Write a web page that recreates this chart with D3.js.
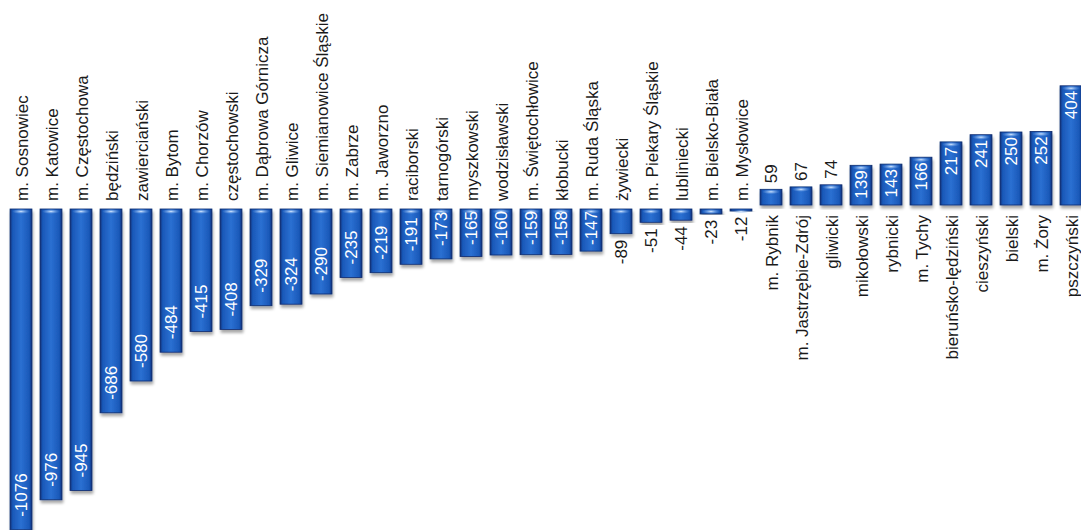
<!DOCTYPE html>
<html>
<head>
<meta charset="utf-8">
<script src="https://cdn.jsdelivr.net/npm/d3@7"></script>
<style>
  html, body { margin: 0; padding: 0; background: #ffffff; }
  svg { display: block; }
</style>
</head>
<body>
<svg id="chart" width="1081" height="530"></svg>
<script>
// Population change by county / city (powiat)
const categories = [
  "m. Sosnowiec", "m. Katowice", "m. Częstochowa", "będziński", "zawierciański",
  "m. Bytom", "m. Chorzów", "częstochowski", "m. Dąbrowa Górnicza", "m. Gliwice",
  "m. Siemianowice Śląskie", "m. Zabrze", "m. Jaworzno", "raciborski", "tarnogórski",
  "myszkowski", "wodzisławski", "m. Świętochłowice", "kłobucki", "m. Ruda Śląska",
  "żywiecki", "m. Piekary Śląskie", "lubliniecki", "m. Bielsko-Biała", "m. Mysłowice",
  "m. Rybnik", "m. Jastrzębie-Zdrój", "gliwicki", "mikołowski", "rybnicki",
  "m. Tychy", "bieruńsko-lędziński", "cieszyński", "bielski", "m. Żory", "pszczyński"
];
const values = [
  -1076, -976, -945, -686, -580,
  -484, -415, -408, -329, -324,
  -290, -235, -219, -191, -173,
  -165, -160, -159, -158, -147,
  -89, -51, -44, -23, -12,
  59, 67, 74, 139, 143,
  166, 217, 241, 250, 252, 404
];

const data = categories.map((c, i) => ({ name: c, value: values[i] }));

const svg = d3.select("#chart");

const x = d3.scaleBand()
  .domain(categories)
  .range([6, 1086])
  .paddingInner(0.27)
  .paddingOuter(0.135);

const y = d3.scaleLinear()
  .domain([-1100, 440])
  .range([537, 75]);

const defs = svg.append("defs");

// body shading: darker at the sides, brighter in the middle
const g = defs.append("linearGradient").attr("id", "barFill")
  .attr("x1", "0").attr("x2", "1").attr("y1", "0").attr("y2", "0");
g.append("stop").attr("offset", "0%").attr("stop-color", "#0c2f78");
g.append("stop").attr("offset", "12%").attr("stop-color", "#1a58b8");
g.append("stop").attr("offset", "50%").attr("stop-color", "#2b70d2");
g.append("stop").attr("offset", "88%").attr("stop-color", "#1a58b8");
g.append("stop").attr("offset", "100%").attr("stop-color", "#0c2f78");

// glossy highlight along the top edge
const hg = defs.append("radialGradient").attr("id", "gloss")
  .attr("cx", "50%").attr("cy", "50%").attr("r", "50%");
hg.append("stop").attr("offset", "0%").attr("stop-color", "#d5e7ff").attr("stop-opacity", 0.95);
hg.append("stop").attr("offset", "100%").attr("stop-color", "#6fa6ec").attr("stop-opacity", 0);

// soft shadow under each bar
const f = defs.append("filter").attr("id", "shadow")
  .attr("x", "-30%").attr("y", "-10%").attr("width", "160%").attr("height", "130%");
f.append("feGaussianBlur").attr("in", "SourceAlpha").attr("stdDeviation", 1.6);
f.append("feOffset").attr("dx", 1).attr("dy", 3).attr("result", "blur");
f.append("feComponentTransfer").append("feFuncA").attr("type", "linear").attr("slope", 0.35);
const fm = f.append("feMerge");
fm.append("feMergeNode");
fm.append("feMergeNode").attr("in", "SourceGraphic");

const y0 = y(0);
const barTop = d => d.value < 0 ? y0 + 2 : y(d.value);
const barLen = d => Math.abs(y(d.value) - y0);

const bars = svg.append("g").selectAll("g.bar").data(data).join("g").attr("class", "bar");

bars.append("rect")
  .attr("x", d => x(d.name))
  .attr("y", barTop)
  .attr("width", x.bandwidth())
  .attr("height", d => Math.max(2, barLen(d) - 2))
  .attr("fill", "url(#barFill)")
  .attr("stroke", "#0a2a6e")
  .attr("stroke-width", 0.8)
  .attr("filter", "url(#shadow)");

bars.append("ellipse")
  .attr("cx", d => x(d.name) + x.bandwidth() / 2)
  .attr("cy", d => barTop(d) + 2.5)
  .attr("rx", x.bandwidth() / 2 - 2)
  .attr("ry", d => Math.min(2.5, barLen(d) / 2))
  .attr("fill", "url(#gloss)");

const font = "'Liberation Sans', Arial, sans-serif";
const cx = d => x(d.name) + x.bandwidth() / 2 + 1;

// category labels, rotated, sitting on the opposite side of the zero line
svg.append("g").selectAll("text").data(data).join("text")
  .attr("transform", d => `translate(${cx(d)},${d.value < 0 ? y0 - 6 : y0 + 8}) rotate(-90)`)
  .attr("text-anchor", d => d.value < 0 ? "start" : "end")
  .attr("dominant-baseline", "central")
  .attr("font-family", font)
  .attr("font-size", 17)
  .attr("fill", "#1a1a1a")
  .text(d => d.name);

// value labels: inside the bar end when it fits, otherwise just beyond it
const fits = d => barLen(d) > 40;
const valueLabels = svg.append("g").selectAll("text").data(data).join("text")
  .attr("text-anchor", "start")
  .attr("dominant-baseline", "central")
  .attr("font-family", font)
  .attr("font-size", 17)
  .attr("fill", d => fits(d) ? "#ffffff" : "#1a1a1a")
  .text(d => String(d.value));

valueLabels.attr("transform", function (d) {
  const L = this.getComputedTextLength();
  const ye = y(d.value);
  let start; // bottom end of the rotated text
  if (fits(d)) {
    if (d.value < 0) start = Math.max(ye - 13, y0 + 4 + L);
    else start = Math.min(ye + 5 + L, y0 - 3);
  } else {
    start = d.value < 0 ? ye + 6 + L : ye - 6;
  }
  return `translate(${cx(d) - 1},${start}) rotate(-90)`;
});
</script>
</body>
</html>
